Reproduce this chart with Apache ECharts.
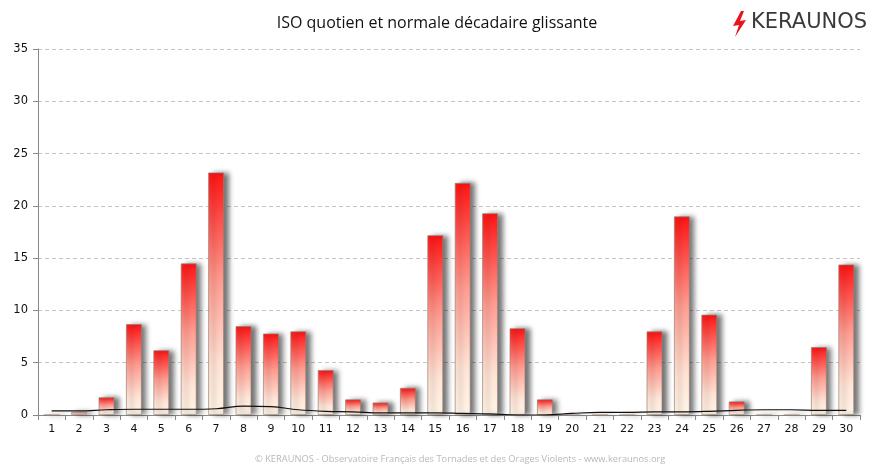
<!DOCTYPE html>
<html><head><meta charset="utf-8">
<script src="https://cdn.jsdelivr.net/npm/echarts@6/dist/echarts.min.js"></script>
<style>html,body{margin:0;padding:0;background:#fff}#c{width:874px;height:472px}</style>
</head><body><div id="c"></div>
<script>
const categories = ['1','2','3','4','5','6','7','8','9','10','11','12','13','14','15','16','17','18','19','20','21','22','23','24','25','26','27','28','29','30'];
const isoValues = [0,0.3,1.7,8.7,6.2,14.5,23.2,8.5,7.8,8.0,4.3,1.5,1.2,2.6,17.2,22.2,19.3,8.3,1.5,0,0,0,8.0,19.0,9.6,1.3,0,0,6.5,14.4];
const normalValues = [0.4,0.4,0.5,0.55,0.55,0.55,0.6,0.85,0.8,0.5,0.35,0.3,0.2,0.2,0.2,0.15,0.1,0.0,0.0,0.15,0.25,0.25,0.3,0.3,0.35,0.45,0.5,0.5,0.45,0.45];
const yTicks = {min:0, max:35, interval:5};
const titleText = 'ISO quotien et normale décadaire glissante';
const footerText = '© KERAUNOS - Observatoire Français des Tornades et des Orages Violents - www.keraunos.org';

const chart = echarts.init(document.getElementById('c'));
chart.setOption({
  animation:false,
  backgroundColor:'#fff',
  title:{text:titleText,left:'center',top:10,textStyle:{fontFamily:'Open Sans',fontWeight:'normal',fontSize:16,color:'#111'}},
  graphic:[
    {type:'polygon',shape:{points:[[741,11],[733,26],[739,25],[735,37],[746,20],[740,21],[744,11]]},style:{fill:'#e8141b'}},
    {type:'text',left:751,top:12,style:{text:'KERAUNOS',font:'21px "DejaVu Sans"',fill:'#3a3a3a'}},
    {type:'text',left:255,top:455,style:{text:footerText,font:'9.3px "Open Sans"',fill:'#b8b8b8'}}
  ],
  grid:{left:38,right:14,top:49,bottom:57},
  xAxis:{type:'category',data:categories,boundaryGap:true,
    axisLine:{lineStyle:{color:'#888'}},axisTick:{show:true,length:5,lineStyle:{color:'#888'}},
    axisLabel:{color:'#111',fontSize:11,fontFamily:'DejaVu Sans',margin:9}},
  yAxis:{type:'value',min:yTicks.min,max:yTicks.max,interval:yTicks.interval,
    axisLine:{show:true,lineStyle:{color:'#888'}},axisTick:{show:true,length:5,lineStyle:{color:'#888'}},
    axisLabel:{color:'#111',fontSize:11.5,fontFamily:'DejaVu Sans',margin:10},
    splitLine:{lineStyle:{color:'#c4c4c4',type:[4,3]}}},
  series:[
    {type:'bar',data:isoValues,barWidth:16,z:2,
      itemStyle:{borderColor:'rgba(150,130,120,0.7)',borderWidth:1,
        shadowColor:'rgba(0,0,0,0.55)',shadowBlur:5,shadowOffsetX:5,shadowOffsetY:0,
        color:new echarts.graphic.LinearGradient(0,0,0,1,[
          {offset:0,color:'#ff1414'},{offset:0.45,color:'#ff9c90'},{offset:0.8,color:'#ffe4d6'},{offset:1,color:'#fff5e6'}])}},
    {type:'line',data:normalValues,smooth:0.4,symbol:'none',z:3,
      lineStyle:{color:'#111',width:1.2},
      areaStyle:{color:new echarts.graphic.LinearGradient(0,0,0,1,[{offset:0,color:'rgba(200,190,170,0.35)'},{offset:1,color:'rgba(230,225,215,0.2)'}])}}
  ]
});
</script></body></html>
